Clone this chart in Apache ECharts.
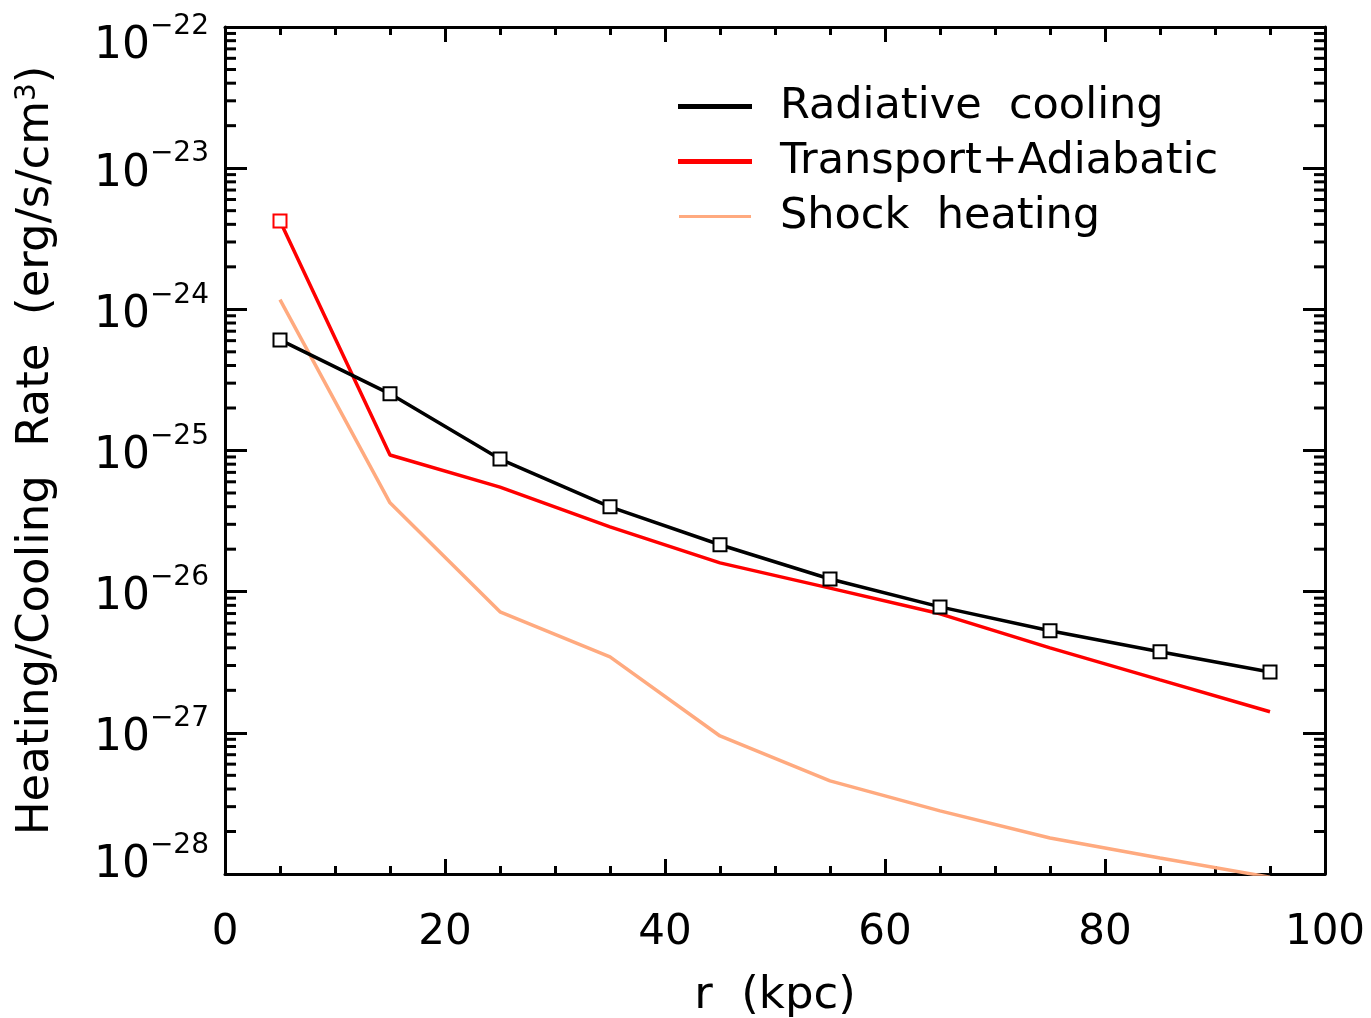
<!DOCTYPE html>
<html>
<head>
<meta charset="utf-8">
<script src="https://cdn.jsdelivr.net/npm/echarts@6/dist/echarts.min.js"></script>
<style>
  html, body { margin: 0; padding: 0; background: #fff; }
  #chart { width: 1371px; height: 1018px; }
</style>
</head>
<body>
<div id="chart"></div>
<script>
// Radius bins (kpc)
const radius = [5, 15, 25, 35, 45, 55, 65, 75, 85, 95];
// Rates in erg/s/cm^3
const radiativeCooling = [6.07e-25, 2.52e-25, 8.7e-26, 3.99e-26, 2.15e-26, 1.23e-26, 7.8e-27, 5.28e-27, 3.75e-27, 2.7e-27];
const transportAdiabatic = [4.23e-24, 9.3e-26, 5.5e-26, 2.88e-26, 1.6e-26, 1.06e-26, 6.97e-27, 4.0e-27, 2.37e-27, 1.41e-27];
const shockHeating = [1.17e-24, 4.26e-26, 7.2e-27, 3.45e-27, 9.5e-28, 4.57e-28, 2.8e-28, 1.8e-28, 1.3e-28, 9.5e-29];
// y axis decades (exponents of 10)
const yMinExp = -28;
const yMaxExp = -22;

// tiny numbers like 1e-28 get rounded away by the log scale,
// so the y axis is a value axis in log10 units
const minorTickValues = [];
for (let e = yMinExp; e < yMaxExp; e++) {
  for (let m = 2; m <= 9; m++) minorTickValues.push(e + Math.log10(m));
}

const FONT = 'DejaVu Sans';
const chart = echarts.init(document.getElementById('chart'));

function pairs(ys) {
  return radius.map((x, i) => [x, Math.log10(ys[i])]);
}

const redData = pairs(transportAdiabatic).map((p, i) =>
  i === 0 ? { value: p, symbol: 'emptyRect', symbolSize: 13 } : { value: p, symbol: 'none' });

const frameTick = { color: '#000', width: 3 };

const options = {
  animation: false,
  backgroundColor: '#fff',
  textStyle: { fontFamily: FONT, color: '#000' },
  grid: { left: 225, right: 46, top: 27, bottom: 144, containLabel: false, outerBoundsMode: 'none' },
  legend: {
    data: ['Radiative  cooling', 'Transport+Adiabatic', 'Shock  heating'],
    orient: 'vertical',
    left: 673,
    top: 74,
    icon: 'rect',
    itemWidth: 72,
    itemHeight: 3,
    itemGap: 0,
    textStyle: { fontFamily: FONT, fontSize: 43, color: '#000', padding: [0, 0, 20, 24], lineHeight: 35 }
  },
  xAxis: [
    {
      type: 'value', min: 0, max: 100, interval: 20, position: 'bottom',
      name: 'r  (kpc)', nameLocation: 'middle', nameGap: 100,
      nameTextStyle: { fontFamily: FONT, fontSize: 45, color: '#000' },
      axisLine: { onZero: false, lineStyle: frameTick },
      axisTick: { inside: true, length: 15, lineStyle: frameTick },
      minorTick: { show: true, splitNumber: 4, length: 8, lineStyle: frameTick },
      axisLabel: { fontFamily: FONT, fontSize: 42, color: '#000', margin: 38 },
      splitLine: { show: false }
    },
    {
      type: 'value', min: 0, max: 100, interval: 20, position: 'top',
      axisLine: { onZero: false, lineStyle: frameTick },
      axisTick: { inside: true, length: 15, lineStyle: frameTick },
      minorTick: { show: true, splitNumber: 4, length: 8, lineStyle: frameTick },
      axisLabel: { show: false },
      splitLine: { show: false }
    }
  ],
  yAxis: [
    {
      type: 'value', min: yMinExp, max: yMaxExp, interval: 1, position: 'left',
      name: 'Heating/Cooling  Rate  (erg/s/cm{sup|3})',
      nameLocation: 'middle', nameGap: 166, nameRotate: 90,
      nameTextStyle: {
        fontFamily: FONT, fontSize: 45, color: '#000',
        rich: { sup: { fontFamily: FONT, fontSize: 28, verticalAlign: 'top', lineHeight: 28, padding: [0, 0, 24, 0] } }
      },
      axisLine: { onZero: false, lineStyle: frameTick },
      axisTick: { inside: true, length: 22, lineStyle: frameTick },
      axisLabel: {
        margin: 16,
        formatter: function (v) {
          const e = Math.round(v);
          const txt = '{b|10}{s|\u2212' + Math.abs(e) + '}';
          // end labels are nudged inward like the original plot
          if (e === yMaxExp) return '{e| }\n' + txt;
          if (e === yMinExp) return txt + '\n{e| }';
          return txt;
        },
        rich: {
          b: { fontFamily: FONT, fontSize: 44, color: '#000', lineHeight: 56, verticalAlign: 'bottom' },
          s: { fontFamily: FONT, fontSize: 28, color: '#000', lineHeight: 56, verticalAlign: 'top' },
          e: { fontSize: 10, lineHeight: 28 }
        }
      },
      splitLine: { show: false }
    },
    {
      type: 'value', min: yMinExp, max: yMaxExp, interval: 1, position: 'right',
      axisLine: { onZero: false, lineStyle: frameTick },
      axisTick: { inside: true, length: 22, lineStyle: frameTick },
      axisLabel: { show: false },
      splitLine: { show: false }
    }
  ],
  series: [
    {
      name: 'Radiative  cooling', type: 'line', data: pairs(radiativeCooling),
      color: '#000', symbol: 'emptyRect', symbolSize: 13,
      lineStyle: { width: 3.5, color: '#000' },
      itemStyle: { color: '#000', borderColor: '#000', borderWidth: 3 },
      z: 4
    },
    {
      name: 'Transport+Adiabatic', type: 'line', data: redData,
      color: '#ff0000', symbol: 'emptyRect', symbolSize: 13,
      lineStyle: { width: 3.5, color: '#ff0000' },
      itemStyle: { color: '#ff0000', borderColor: '#ff0000', borderWidth: 3 },
      z: 3
    },
    {
      name: 'Shock  heating', type: 'line', data: pairs(shockHeating),
      color: '#ffaa7f', symbol: 'none', showSymbol: false, clip: true,
      lineStyle: { width: 3.5, color: '#ffaa7f' },
      z: 2
    },
    {
      // minor log ticks on left and right frame edges
      type: 'custom', silent: true, z: 10,
      data: minorTickValues.map(v => [0, v]),
      renderItem: function (params, api) {
        const l = api.coord([0, api.value(1)]);
        const r = api.coord([100, api.value(1)]);
        return {
          type: 'group',
          children: [
            { type: 'line', shape: { x1: l[0], y1: l[1], x2: l[0] + 11, y2: l[1] }, style: { stroke: '#000', lineWidth: 3 } },
            { type: 'line', shape: { x1: r[0] - 11, y1: r[1], x2: r[0], y2: r[1] }, style: { stroke: '#000', lineWidth: 3 } }
          ]
        };
      }
    }
  ]
};

chart.setOption(options);
</script>
</body>
</html>
